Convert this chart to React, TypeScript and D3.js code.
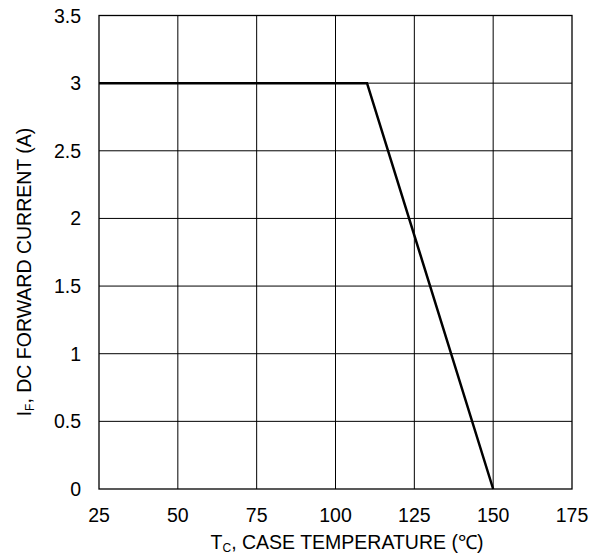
import React from "react";
import * as d3 from "d3";

const xTicks = [25, 50, 75, 100, 125, 150, 175];
const yTicks = [0, 0.5, 1, 1.5, 2, 2.5, 3, 3.5];
const tempC = [25, 110, 150];
const currentA = [3, 3, 0];

export default function App() {
  const W = 608, H = 554;
  const L = 99, R = 572, T = 15.5, B = 489;
  const x = d3.scaleLinear().domain([25, 175]).range([L, R]);
  const y = d3.scaleLinear().domain([0, 3.5]).range([B, T]);
  const pts = tempC.map((t, i) => [t, currentA[i]] as [number, number]);
  const line = d3.line<[number, number]>().x(d => x(d[0])).y(d => y(d[1]));
  const font = "'Liberation Sans', Arial, sans-serif";
  return (
    <svg width={W} height={H} style={{ position: "absolute", left: 0, top: 0, background: "#fff" }} fontFamily={font}>
      <rect x={0} y={0} width={W} height={H} fill="#fff" />
      {xTicks.slice(1, -1).map(t => (
        <line key={"gx" + t} x1={x(t)} x2={x(t)} y1={T} y2={B} stroke="#000" strokeWidth={1} />
      ))}
      {yTicks.slice(1, -1).map(t => (
        <line key={"gy" + t} x1={L} x2={R} y1={y(t)} y2={y(t)} stroke="#000" strokeWidth={1} />
      ))}
      <rect x={L} y={T} width={R - L} height={B - T} fill="none" stroke="#000" strokeWidth={1.3} />
      <path d={line(pts) || ""} fill="none" stroke="#000" strokeWidth={2.5} />
      {xTicks.map(t => (
        <text key={"tx" + t} x={x(t)} y={522} textAnchor="middle" fontSize={19.5}>{t}</text>
      ))}
      <g>
        {yTicks.map(t => (
          <text key={"ty" + t} x={81} y={y(t) + 7} textAnchor="end" fontSize={19.5}>{t}</text>
        ))}
      </g>
      <text x={347} y={549} textAnchor="middle" fontSize={19.5}>
        T<tspan fontSize={12} dy={3}>C</tspan><tspan dy={-3}>, CASE TEMPERATURE (℃)</tspan>
      </text>
      <text transform={`translate(31,272) rotate(-90)`} textAnchor="middle" fontSize={19.5}>
        I<tspan fontSize={12} dy={3}>F</tspan><tspan dy={-3}>, DC FORWARD CURRENT (A)</tspan>
      </text>
    </svg>
  );
}
